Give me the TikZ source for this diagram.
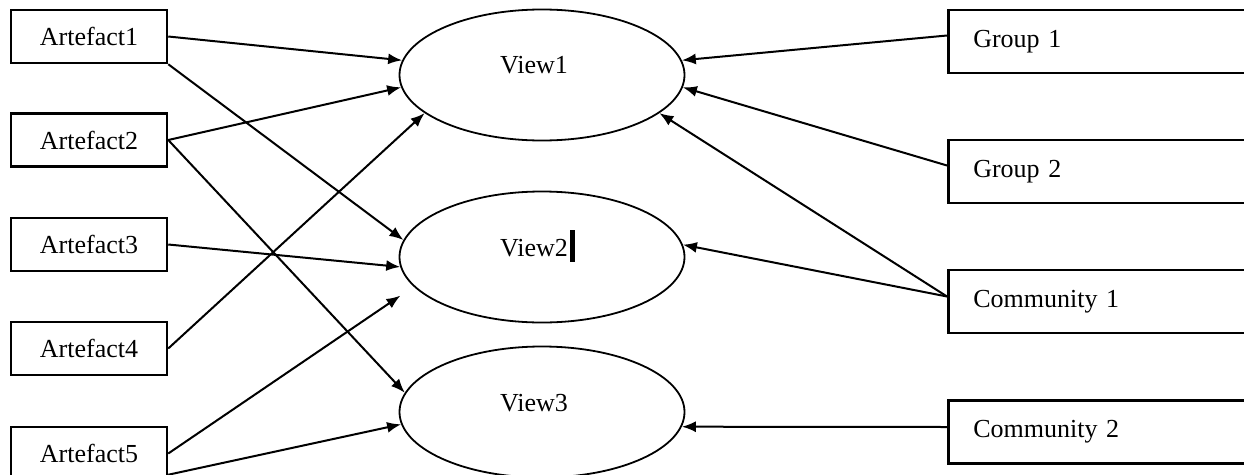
\documentclass[tikz,border=0pt]{standalone}
\usepackage{fontspec}
\setmainfont{Liberation Serif}
\usetikzlibrary{arrows.meta,shapes.geometric}
\begin{document}
\begin{tikzpicture}[x=1pt,y=-1pt,
  lbl/.style={font=\fontsize{26}{30}\selectfont},
  artbox/.style={draw, line width=2.5pt, minimum width=156pt, minimum height=53pt, inner sep=0pt, lbl},
  grpbox/.style={draw, line width=2.5pt, minimum width=330pt, minimum height=63pt, inner xsep=25pt, inner ysep=0pt, text width=280pt, align=left, anchor=west, lbl},
  view/.style={draw, ellipse, line width=1.8pt, minimum width=285pt, minimum height=131pt, inner sep=0pt},
  viewtext/.style={inner sep=0pt, lbl},
  arr/.style={line width=2pt, -{Latex[length=14pt,width=11pt]}}
]
\clip (0,0) rectangle (1244,474);
\fill[white] (0,0) rectangle (1244,474);

% left boxes
\node[artbox] (a1) at (89,36.5) {Artefact1};
\node[artbox] (a2) at (89,140) {Artefact2};
\node[artbox] (a3) at (89,244.5) {Artefact3};
\node[artbox] (a4) at (89,348.5) {Artefact4};
\node[artbox] (a5) at (89,453.5) {Artefact5};

% right boxes
\node[grpbox] (g1) at (947,41.5) {Group 1};
\node[grpbox] (g2) at (947,171.5) {Group 2};
\node[grpbox] (c1) at (947,301.5) {Community 1};
\node[grpbox] (c2) at (947,432) {Community 2};

% views
\node[view] (v1) at (542,75) {};
\node[view] (v2) at (542,257) {};
\node[view] (v3) at (542,412) {};
\node[viewtext] (t1) at (534,65) {View1};
\node[viewtext] (t2) at (534,248) {View2};
\node[viewtext] (t3) at (534,403) {View3};
\fill (570,230) rectangle (575,262);

% left connectors
\draw[arr] (a1.east) -- (v1.174);
\draw[arr] (a1.south east) -- (v2.173);
\draw[arr] (a2.east) -- (v1.185);
\draw[arr] (a2.east) -- (v3.172);
\draw[arr] (a3.east) -- (v2.184);
\draw[arr] (a4.east) -- (v1.198);
\draw[arr, shorten >=16pt] (a5.east) -- (v2.193);
\draw[arr] (a5.-15) -- (v3.185);

% right connectors
\draw[arr] ([yshift=6pt]g1.west) -- (v1.6);
\draw[arr] ([yshift=6pt]g2.west) -- (v1.355);
\draw[arr] ([yshift=5pt]c1.west) -- (v1.342);
\draw[arr] ([yshift=5pt]c1.west) -- (v2.5);
\draw[arr] ([yshift=5pt]c2.west) -- (v3.354);
\end{tikzpicture}
\end{document}
